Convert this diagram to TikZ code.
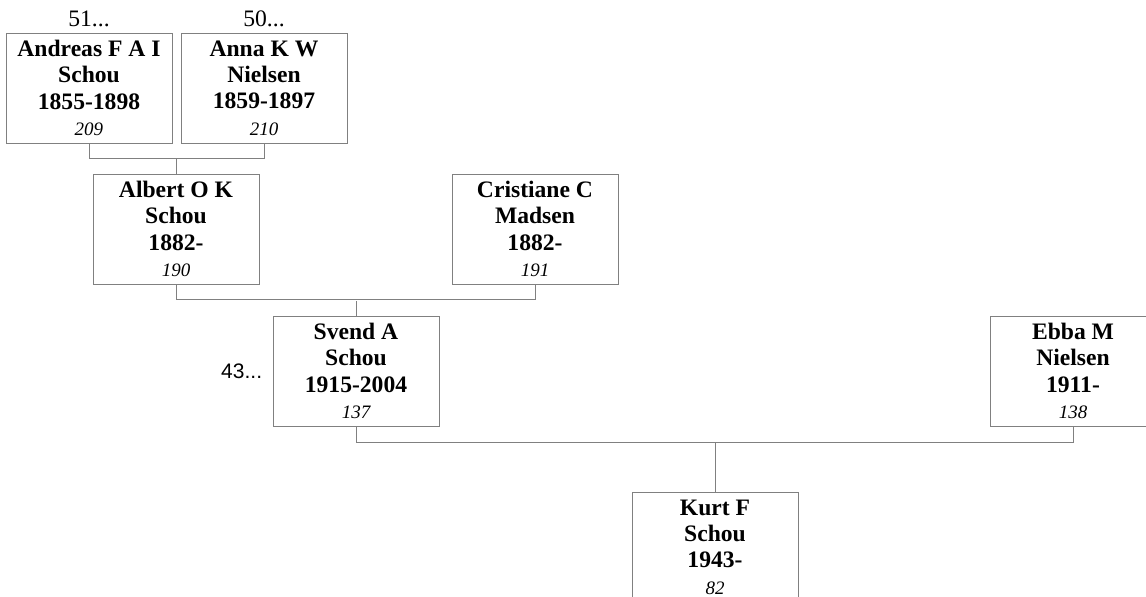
\documentclass[tikz,border=0pt]{standalone}
\usepackage{fontspec}
\setmainfont{Liberation Serif}
\newfontfamily\arialfont{Liberation Sans}
\usetikzlibrary{positioning}
\definecolor{boxgray}{RGB}{128,128,128}
\tikzset{
person node/.style={rectangle,draw=boxgray,line width=0.5pt,minimum width=83pt,minimum height=55pt,inner sep=0pt,align=center,font=\fontsize{11.8}{13.2}\selectfont\bfseries},
more node/.style={inner sep=0pt,font=\fontsize{11.8}{13}\selectfont},
family line/.style={draw=boxgray,line width=0.5pt}}
\newcommand{\refnr}[1]{{\fontsize{9.5}{13.2}\selectfont\mdseries\itshape #1}}

\begin{document}
\begin{tikzpicture}[x=0.5pt,y=-0.5pt]
\useasboundingbox (0,0) rectangle (1146,596);

\node[person node] (andreas) at (89,88) {Andreas F A I\\Schou\\1855-1898\\\refnr{209}};
\node[person node] (anna) at (264,88) {Anna K W\\Nielsen\\1859-1897\\\refnr{210}};
\node[person node] (albert) at (176,229) {Albert O K\\Schou\\1882-\\\refnr{190}};
\node[person node] (cristiane) at (535,229) {Cristiane C\\Madsen\\1882-\\\refnr{191}};
\node[person node] (svend) at (356,371) {Svend A\\Schou\\1915-2004\\\refnr{137}};
\node[person node] (ebba) at (1073,371) {Ebba M\\Nielsen\\1911-\\\refnr{138}};
\node[person node] (kurt) at (715,547) {Kurt F\\Schou\\1943-\\\refnr{82}};

\node[more node,above=2.5pt of andreas] (andreas more) {51...};
\node[more node,above=2.5pt of anna] (anna more) {50...};
\node[more node,font=\arialfont\fontsize{10.5}{12}\selectfont,left=5pt of svend] (svend more) {43...};

\path[family line] (andreas.south) -- ++(0,15) -| (anna.south);
\path[family line] (albert.north) -- ++(0,-15);
\path[family line] (albert.south) -- ++(0,15) -| (cristiane.south);
\path[family line] (svend.north) -- ++(0,-15);
\path[family line] (svend.south) -- ++(0,16) -| (ebba.south);
\path[family line] (kurt.north) -- ++(0,-50);

\end{tikzpicture}
\end{document}
